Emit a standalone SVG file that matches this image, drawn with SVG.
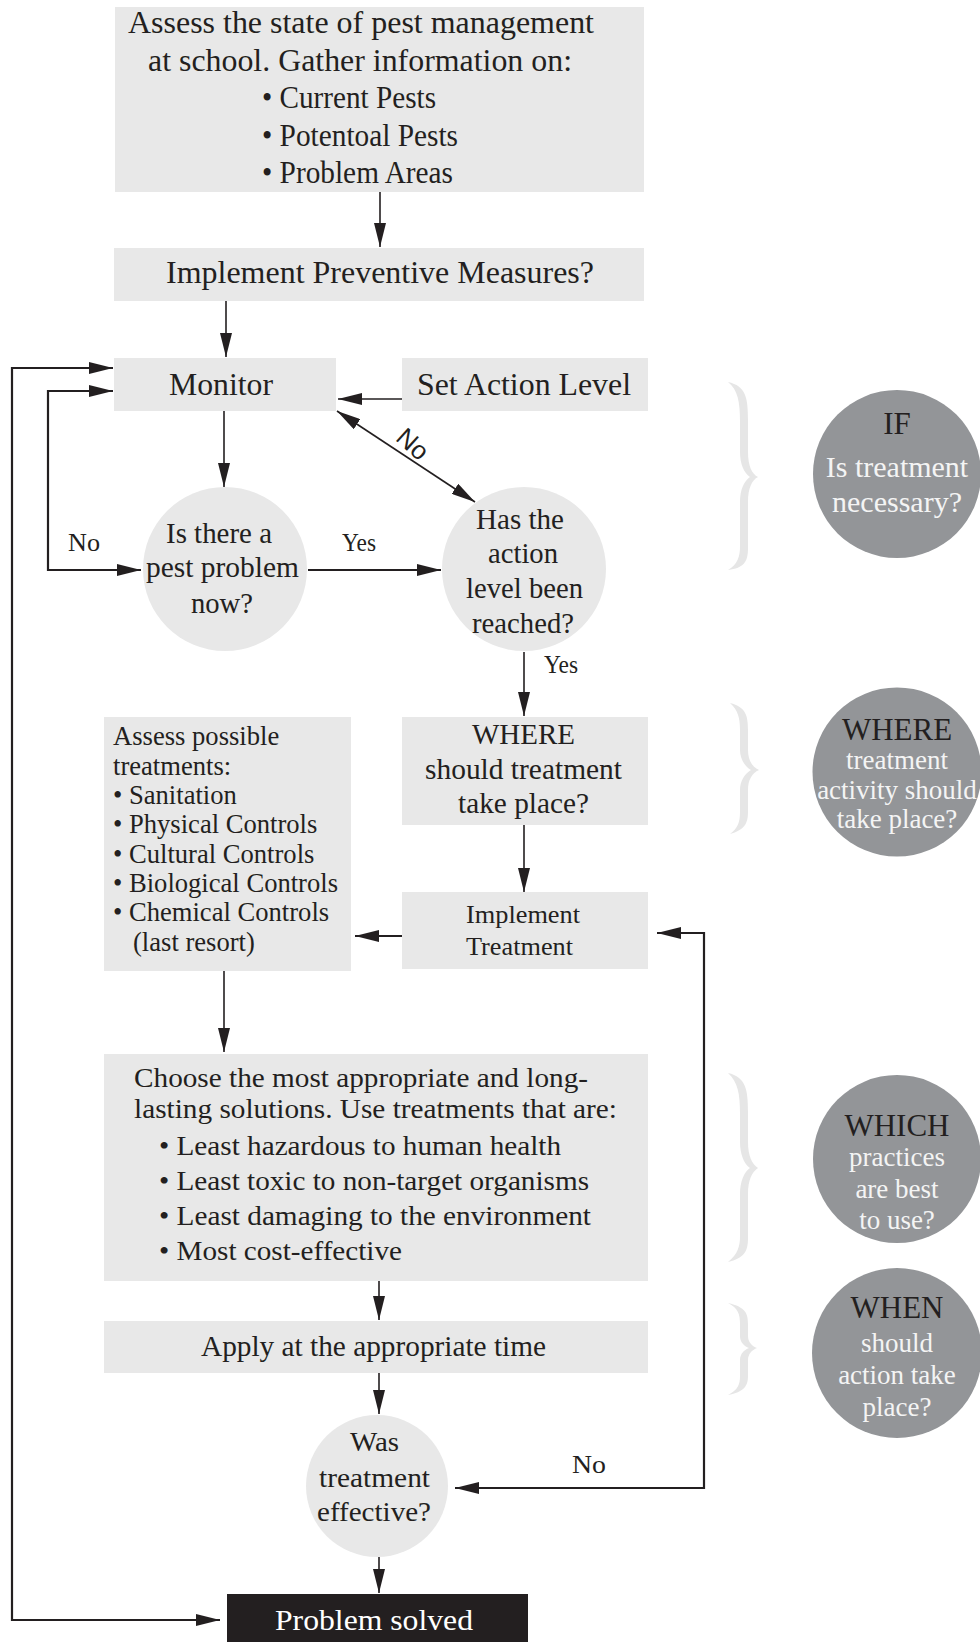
<svg xmlns="http://www.w3.org/2000/svg" width="980" height="1642" viewBox="0 0 980 1642">
<defs>
<marker id="ah" markerUnits="userSpaceOnUse" markerWidth="24" markerHeight="12" refX="24" refY="6" orient="auto-start-reverse" viewBox="0 0 24 12">
<path d="M0,0 L24,6 L0,12 z" fill="#231f20"/>
</marker>
<style>
.box{fill:#e8e8e8}
.t{font-family:"Liberation Serif","Times New Roman",serif;fill:#231f20}
.c{font-family:"Liberation Serif","Times New Roman",serif;text-anchor:middle}
.hd{fill:#231f20;font-size:31px}
.bd{fill:#f4f4f4;font-size:27px}
.ln{stroke:#231f20;stroke-width:1.6;fill:none}
.lp{stroke:#231f20;stroke-width:2.2;fill:none}
.side{fill:#939598}
.brace{fill:#e6e6e6}
</style>
</defs>
<rect width="980" height="1642" fill="#ffffff"/>

<g id="connectors">
<line class="ln" x1="380" y1="192" x2="380" y2="247" marker-end="url(#ah)"/>
<line class="ln" x1="226" y1="301" x2="226" y2="357" marker-end="url(#ah)"/>
<line class="ln" x1="402" y1="399" x2="338" y2="399" marker-end="url(#ah)"/>
<path class="lp" d="M113,368 H12 V1620 H220" marker-start="url(#ah)" marker-end="url(#ah)"/>
<path class="lp" d="M113,391 H48 V570 H141" marker-start="url(#ah)" marker-end="url(#ah)"/>
<line class="ln" x1="224" y1="411" x2="224" y2="487" marker-end="url(#ah)"/>
<line class="lp" x1="308" y1="570" x2="441" y2="570" marker-end="url(#ah)"/>
<line class="ln" x1="337" y1="411" x2="475" y2="502" marker-start="url(#ah)" marker-end="url(#ah)"/>
<line class="ln" x1="524" y1="652" x2="524" y2="716" marker-end="url(#ah)"/>
<line class="ln" x1="524" y1="825" x2="524" y2="892" marker-end="url(#ah)"/>
<line class="lp" x1="402" y1="936" x2="355" y2="936" marker-end="url(#ah)"/>
<line class="ln" x1="224" y1="971" x2="224" y2="1052" marker-end="url(#ah)"/>
<line class="ln" x1="379" y1="1281" x2="379" y2="1320" marker-end="url(#ah)"/>
<line class="ln" x1="379" y1="1373" x2="379" y2="1414" marker-end="url(#ah)"/>
<path class="lp" d="M455,1488 H704 V933 H657" marker-start="url(#ah)" marker-end="url(#ah)"/>
<line class="ln" x1="379" y1="1557" x2="379" y2="1593" marker-end="url(#ah)"/>
<text class="t" x="68" y="551" font-size="25" textLength="32" lengthAdjust="spacingAndGlyphs">No</text>
<text class="t" x="342" y="551" font-size="25" textLength="34" lengthAdjust="spacingAndGlyphs">Yes</text>
<text class="t" x="544" y="673" font-size="25" textLength="34" lengthAdjust="spacingAndGlyphs">Yes</text>
<text class="t" x="572" y="1473" font-size="25" textLength="34" lengthAdjust="spacingAndGlyphs">No</text>
<text transform="translate(413,444) rotate(42)" x="0" y="9" font-family="'Liberation Sans',Arial,sans-serif" font-size="26" text-anchor="middle" fill="#231f20">No</text>
</g>

<g id="assess-state">
<rect class="box" x="115" y="7" width="529" height="185"/>
<text class="t" font-size="31" x="128" y="33" textLength="466" lengthAdjust="spacingAndGlyphs">Assess the state of pest management</text>
<text class="t" font-size="31" x="148" y="71" textLength="424" lengthAdjust="spacingAndGlyphs">at school. Gather information on:</text>
<text class="t" font-size="31" x="262" y="108" textLength="174" lengthAdjust="spacingAndGlyphs">• Current Pests</text>
<text class="t" font-size="31" x="262" y="146" textLength="196" lengthAdjust="spacingAndGlyphs">• Potentoal Pests</text>
<text class="t" font-size="31" x="262" y="183" textLength="191" lengthAdjust="spacingAndGlyphs">• Problem Areas</text>
</g>

<g id="preventive">
<rect class="box" x="114" y="248" width="530" height="53"/>
<text class="t" font-size="31" x="166" y="283" textLength="428" lengthAdjust="spacingAndGlyphs">Implement Preventive Measures?</text>
</g>

<g id="monitor">
<rect class="box" x="114" y="358" width="222" height="53"/>
<text class="t" font-size="31" x="169" y="395" textLength="104" lengthAdjust="spacingAndGlyphs">Monitor</text>
</g>

<g id="set-action-level">
<rect class="box" x="402" y="358" width="246" height="53"/>
<text class="t" font-size="31" x="417" y="395" textLength="214" lengthAdjust="spacingAndGlyphs">Set Action Level</text>
</g>

<g id="pest-problem">
<circle class="box" cx="225" cy="569" r="82"/>
<text class="t" font-size="29" x="166" y="543" textLength="106" lengthAdjust="spacingAndGlyphs">Is there a</text>
<text class="t" font-size="29" x="146" y="577" textLength="153" lengthAdjust="spacingAndGlyphs">pest problem</text>
<text class="t" font-size="29" x="191" y="613" textLength="62" lengthAdjust="spacingAndGlyphs">now?</text>
</g>

<g id="action-level-reached">
<circle class="box" cx="524" cy="569" r="82"/>
<text class="t" font-size="29" x="476" y="529" textLength="88" lengthAdjust="spacingAndGlyphs">Has the</text>
<text class="t" font-size="29" x="488" y="563" textLength="70" lengthAdjust="spacingAndGlyphs">action</text>
<text class="t" font-size="29" x="466" y="598" textLength="117" lengthAdjust="spacingAndGlyphs">level been</text>
<text class="t" font-size="29" x="472" y="633" textLength="102" lengthAdjust="spacingAndGlyphs">reached?</text>
</g>

<g id="where-box">
<rect class="box" x="402" y="717" width="246" height="108"/>
<text class="t" font-size="29" x="472" y="744" textLength="103" lengthAdjust="spacingAndGlyphs">WHERE</text>
<text class="t" font-size="29" x="425" y="779" textLength="197" lengthAdjust="spacingAndGlyphs">should treatment</text>
<text class="t" font-size="29" x="458" y="813" textLength="131" lengthAdjust="spacingAndGlyphs">take place?</text>
</g>

<g id="implement-treatment">
<rect class="box" x="402" y="892" width="246" height="77"/>
<text class="t" font-size="26" x="466" y="923" textLength="114" lengthAdjust="spacingAndGlyphs">Implement</text>
<text class="t" font-size="26" x="466" y="955" textLength="107" lengthAdjust="spacingAndGlyphs">Treatment</text>
</g>

<g id="assess-treatments">
<rect class="box" x="104" y="717" width="247" height="254"/>
<text class="t" font-size="26.6" x="113" y="745">Assess possible</text>
<text class="t" font-size="26.6" x="113" y="775">treatments:</text>
<text class="t" font-size="26.6" x="113" y="804">• Sanitation</text>
<text class="t" font-size="26.6" x="113" y="833">• Physical Controls</text>
<text class="t" font-size="26.6" x="113" y="863">• Cultural Controls</text>
<text class="t" font-size="26.6" x="113" y="892">• Biological Controls</text>
<text class="t" font-size="26.6" x="113" y="921">• Chemical Controls</text>
<text class="t" font-size="26.6" x="133" y="951">(last resort)</text>
</g>

<g id="choose">
<rect class="box" x="104" y="1054" width="544" height="227"/>
<text class="t" font-size="28" x="134" y="1087" textLength="454" lengthAdjust="spacingAndGlyphs">Choose the most appropriate and long-</text>
<text class="t" font-size="28" x="134" y="1118" textLength="483" lengthAdjust="spacingAndGlyphs">lasting solutions. Use treatments that are:</text>
<text class="t" font-size="28" x="159" y="1155" textLength="402" lengthAdjust="spacingAndGlyphs">• Least hazardous to human health</text>
<text class="t" font-size="28" x="159" y="1190" textLength="430" lengthAdjust="spacingAndGlyphs">• Least toxic to non-target organisms</text>
<text class="t" font-size="28" x="159" y="1225" textLength="432" lengthAdjust="spacingAndGlyphs">• Least damaging to the environment</text>
<text class="t" font-size="28" x="159" y="1260" textLength="243" lengthAdjust="spacingAndGlyphs">• Most cost-effective</text>
</g>

<g id="apply">
<rect class="box" x="104" y="1321" width="544" height="52"/>
<text class="t" font-size="29" x="201" y="1356" textLength="345" lengthAdjust="spacingAndGlyphs">Apply at the appropriate time</text>
</g>

<g id="effective">
<circle class="box" cx="377" cy="1486" r="71"/>
<text class="t" font-size="27" x="350" y="1451" textLength="49" lengthAdjust="spacingAndGlyphs">Was</text>
<text class="t" font-size="27" x="319" y="1487" textLength="111" lengthAdjust="spacingAndGlyphs">treatment</text>
<text class="t" font-size="27" x="317" y="1521" textLength="114" lengthAdjust="spacingAndGlyphs">effective?</text>
</g>

<g id="problem-solved">
<rect x="227" y="1594" width="301" height="48" fill="#231f20"/>
<text class="t" font-size="30" x="275" y="1630" textLength="198" lengthAdjust="spacingAndGlyphs" style="fill:#ffffff">Problem solved</text>
</g>

<g id="side-if">
<path class="brace" d="M728,382 C746,386 748,398 748,420 L748,452 C748,466 752,474 758,477 C752,480 748,488 748,502 L748,548 C748,562 744,568 728,570 C738,564 740,556 740,546 L740,502 C740,490 744,481 750,477 C744,473 740,464 740,452 L740,422 C740,402 738,390 728,382 Z"/>
<circle class="side" cx="897" cy="474" r="84"/>
<text class="c hd" x="897" y="434">IF</text>
<text class="c bd" x="897" y="477" style="font-size:30px">Is treatment</text>
<text class="c bd" x="897" y="512" style="font-size:30px">necessary?</text>
</g>

<g id="side-where">
<path class="brace" d="M730,703 C746,707 748,716 748,730 L748,750 C748,760 752,767 759,770 C752,773 748,780 748,790 L748,812 C748,824 744,830 730,834 C738,828 740,822 740,812 L740,790 C740,782 744,774 751,770 C744,766 740,758 740,750 L740,730 C740,718 738,710 730,703 Z"/>
<circle class="side" cx="897" cy="772" r="84.5"/>
<text class="c hd" x="897" y="740">WHERE</text>
<text class="c bd" x="897" y="769">treatment</text>
<text class="c bd" x="897" y="799">activity should</text>
<text class="c bd" x="897" y="828">take place?</text>
</g>

<g id="side-which">
<path class="brace" d="M728,1073 C746,1077 748,1090 748,1112 L748,1142 C748,1156 752,1164 758,1168 C752,1172 748,1180 748,1194 L748,1238 C748,1252 744,1258 728,1262 C738,1254 740,1246 740,1236 L740,1194 C740,1182 744,1172 750,1168 C744,1164 740,1154 740,1142 L740,1114 C740,1094 738,1082 728,1073 Z"/>
<circle class="side" cx="897" cy="1159" r="84"/>
<text class="c hd" x="897" y="1136">WHICH</text>
<text class="c bd" x="897" y="1166">practices</text>
<text class="c bd" x="897" y="1198">are best</text>
<text class="c bd" x="897" y="1229">to use?</text>
</g>

<g id="side-when">
<path class="brace" d="M728,1303 C746,1307 748,1314 748,1324 L748,1336 C748,1342 752,1346 757,1348 C752,1350 748,1354 748,1360 L748,1376 C748,1386 744,1392 728,1395 C738,1390 740,1384 740,1376 L740,1360 C740,1354 744,1350 749,1348 C744,1346 740,1342 740,1336 L740,1324 C740,1314 738,1308 728,1303 Z"/>
<circle class="side" cx="897" cy="1353" r="85"/>
<text class="c hd" x="897" y="1318">WHEN</text>
<text class="c bd" x="897" y="1352">should</text>
<text class="c bd" x="897" y="1384">action take</text>
<text class="c bd" x="897" y="1416">place?</text>
</g>
</svg>
